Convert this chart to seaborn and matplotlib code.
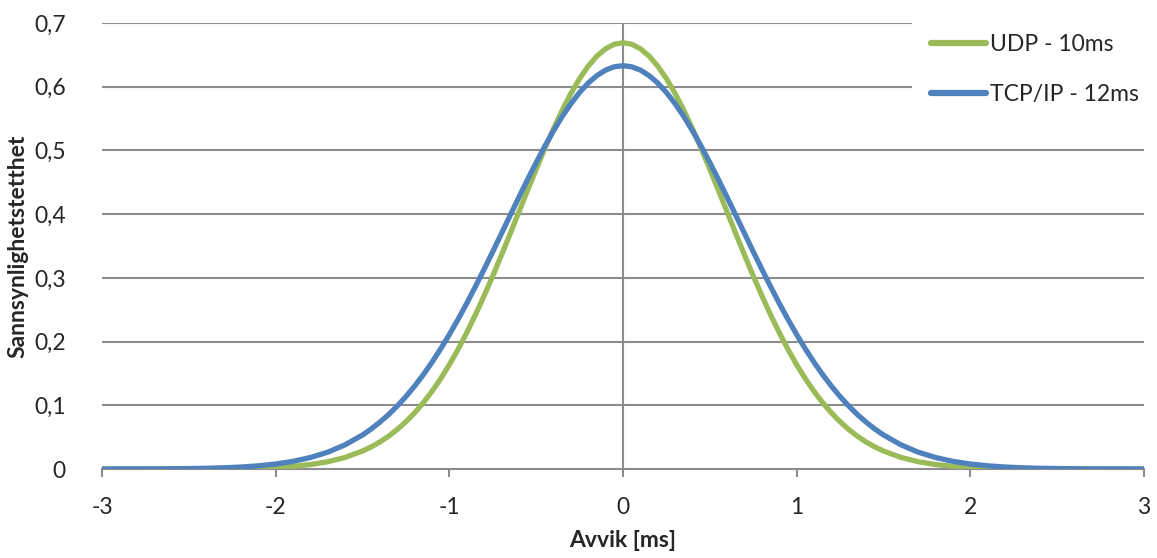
import matplotlib
matplotlib.use("Agg")
import matplotlib.pyplot as plt
import seaborn as sns
import pandas as pd

# Deviation values (ms) at which the curves were read: one side (0 .. 3), mirrored around 0
x_half = [0.0, 0.05, 0.1, 0.15, 0.2, 0.25, 0.3, 0.35, 0.4, 0.45, 0.5, 0.55, 0.6, 0.65, 0.7,
          0.75, 0.8, 0.85, 0.9, 0.95, 1.0, 1.05, 1.1, 1.15, 1.2, 1.25, 1.3, 1.35, 1.4, 1.45,
          1.5, 1.6, 1.7, 1.8, 1.9, 2.0, 2.1, 2.2, 2.3, 2.4, 2.5, 2.6, 2.7, 2.8, 2.9, 3.0]

udp_half = [0.669, 0.6667, 0.6596, 0.6481, 0.6324, 0.6127, 0.5894, 0.5630, 0.5341, 0.5031,
            0.4705, 0.4370, 0.4031, 0.3691, 0.3356, 0.3031, 0.2717, 0.2419, 0.2139, 0.1878,
            0.1637, 0.1417, 0.1218, 0.1040, 0.0881, 0.0742, 0.0620, 0.0514, 0.0424, 0.0347,
            0.0282, 0.0182, 0.0114, 0.0070, 0.0042, 0.0024, 0.0013, 0.0007, 0.0004, 0.0002,
            0.0001, 0.00005, 0.00002, 0.00001, 0.0, 0.0]
tcp_half = [0.633, 0.6313, 0.6261, 0.6175, 0.6058, 0.5910, 0.5734, 0.5533, 0.5309, 0.5067,
            0.4809, 0.4540, 0.4262, 0.3979, 0.3695, 0.3411, 0.3133, 0.2862, 0.2599, 0.2348,
            0.2110, 0.1885, 0.1675, 0.1480, 0.1301, 0.1137, 0.0988, 0.0854, 0.0735, 0.0628,
            0.0534, 0.0380, 0.0264, 0.0180, 0.0120, 0.0078, 0.0050, 0.0031, 0.0019, 0.0011,
            0.0007, 0.0004, 0.0002, 0.0001, 0.0001, 0.0]

x_vals = [-v for v in x_half[:0:-1]] + x_half
udp_vals = udp_half[:0:-1] + udp_half
tcp_vals = tcp_half[:0:-1] + tcp_half

series_names = ["UDP - 10ms", "TCP/IP - 12ms"]
series_colors = ["#9BBB59", "#4F81BD"]
y_ticks = [0, 0.1, 0.2, 0.3, 0.4, 0.5, 0.6, 0.7]
y_labels = ["0", "0,1", "0,2", "0,3", "0,4", "0,5", "0,6", "0,7"]
x_ticks = [-3, -2, -1, 0, 1, 2, 3]
x_labels = ["-3", "-2", "-1", "0", "1", "2", "3"]

df = pd.DataFrame({
    "x": x_vals * 2,
    "y": udp_vals + tcp_vals,
    "serie": [series_names[0]] * len(x_vals) + [series_names[1]] * len(x_vals),
})

sns.set_style("white")
plt.rcParams["font.family"] = ["Lato", "DejaVu Sans"]

fig = plt.figure(figsize=(11.57, 5.58), dpi=100)
ax = fig.add_axes([102 / 1157, 1 - 469 / 558, (1144 - 102) / 1157, (469 - 23) / 558])

grid_c = "#8C8C8C"
for yt in y_ticks[1:]:
    ax.axhline(yt, color=grid_c, lw=1.5, zorder=1)
ax.axvline(0, color=grid_c, lw=1.5, zorder=1)

sns.lineplot(data=df, x="x", y="y", hue="serie", palette=series_colors,
             hue_order=series_names, lw=3.8, ax=ax, zorder=3, legend=True, sort=False)
for ln in ax.get_lines():
    ln.set_solid_capstyle("butt")
    ln.set_solid_joinstyle("round")

ax.set_xlim(-3, 3)
ax.set_ylim(0, 0.7)
ax.set_xticks(x_ticks)
ax.set_xticklabels(x_labels)
ax.set_yticks(y_ticks)
ax.set_yticklabels(y_labels)
ax.tick_params(axis="x", direction="out", length=6, width=1.5, color=grid_c,
               labelsize=16.5, pad=14, bottom=True)
ax.tick_params(axis="y", length=0, labelsize=16.5, pad=26)

for s in ["left", "right", "top"]:
    ax.spines[s].set_visible(False)
ax.spines["bottom"].set_color(grid_c)
ax.spines["bottom"].set_linewidth(1.5)
ax.spines["bottom"].set_zorder(2)

ax.set_xlabel("Avvik [ms]", fontsize=16.5, fontweight="bold", labelpad=9)
ax.set_ylabel("Sannsynlighetstetthet", fontsize=16.5, fontweight="bold", labelpad=4)

x0 = (912 - 102) / (1144 - 102)
y0 = (469 - 125) / (469 - 23)
leg = ax.legend(loc="upper left", bbox_to_anchor=(x0, y0, 1 - x0, 1.02 - y0), mode="expand",
                frameon=True, facecolor="white", edgecolor="none", framealpha=1,
                fontsize=16.5, handlelength=2.4, handletextpad=0.15, labelspacing=1.28,
                borderpad=0.85, borderaxespad=0)
leg.set_zorder(5)
leg.get_frame().set_boxstyle("square", pad=0)
for h in leg.get_lines():
    h.set_linewidth(4.5)
    h.set_solid_capstyle("round")

fig.savefig("out.png", dpi=100)
